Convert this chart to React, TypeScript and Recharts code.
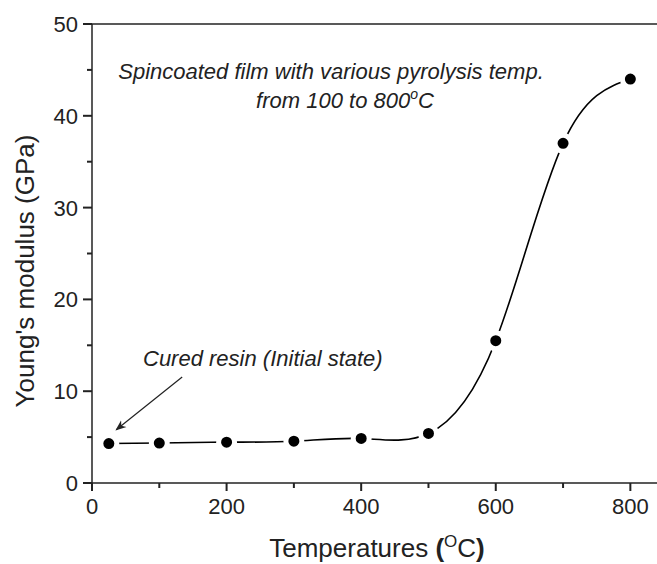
import { LineChart, Line, XAxis, YAxis, ReferenceLine } from 'recharts'

const temps = [25, 100, 200, 300, 400, 500, 600, 700, 800]
const modulus = [4.3, 4.35, 4.45, 4.55, 4.85, 5.4, 15.5, 37, 44]
const xTicks = [0, 100, 200, 300, 400, 500, 600, 700, 800]
const yTicks = [0, 5, 10, 15, 20, 25, 30, 35, 40, 45, 50]
const arrowFrom = { x: 134, y: 11.55 }
const arrowTo = { x: 36, y: 5.8 }

const data = temps.map((t, i) => ({ temp: t, modulus: modulus[i] }))

const font = '"Liberation Sans", Arial, sans-serif'
const ink = '#222'

const XTick = (props: any) => {
  const { x, y, payload } = props
  const major = payload.value % 200 === 0
  return (
    <g>
      <line x1={x} y1={y} x2={x} y2={y + (major ? 8 : 5)} stroke={ink} strokeWidth={2} />
      {major && (
        <text x={x} y={y + 31} textAnchor="middle" fontSize={22} fontFamily={font} fill={ink}>
          {payload.value}
        </text>
      )}
    </g>
  )
}

const YTick = (props: any) => {
  const { x, y, payload } = props
  const major = payload.value % 10 === 0
  return (
    <g>
      <line x1={x} y1={y} x2={x - (major ? 9 : 5)} y2={y} stroke={ink} strokeWidth={2} />
      {major && (
        <text x={x - 14} y={y + 8} textAnchor="end" fontSize={22} fontFamily={font} fill={ink}>
          {payload.value}
        </text>
      )}
    </g>
  )
}

export default function App() {
  return (
    <div style={{ position: 'fixed', left: 0, top: 0, width: 657, height: 564, overflow: 'hidden', background: '#fff' }}>
      <LineChart width={700} height={564} data={data} margin={{ top: 24, right: 36, left: 0, bottom: 0 }}>
        <defs>
          <marker id="arrowHead" viewBox="0 0 10 10" refX="9" refY="5" markerWidth="9" markerHeight="9" orient="auto">
            <path d="M0,1 L10,5 L0,9 L3,5 Z" fill={ink} />
          </marker>
        </defs>
        <XAxis
          type="number"
          dataKey="temp"
          domain={[0, 850]}
          ticks={xTicks}
          tick={<XTick />}
          tickSize={0}
          tickMargin={0}
          tickLine={false}
          axisLine={{ stroke: ink, strokeWidth: 1.5 }}
          height={81}
          interval={0}
        />
        <YAxis
          type="number"
          domain={[0, 50]}
          ticks={yTicks}
          tick={<YTick />}
          tickSize={0}
          tickMargin={0}
          tickLine={false}
          axisLine={{ stroke: ink, strokeWidth: 1.5 }}
          width={92}
          interval={0}
        />
        <ReferenceLine y={50} stroke={ink} strokeWidth={1.5} />
        <ReferenceLine x={850} stroke={ink} strokeWidth={1.5} />
        <ReferenceLine
          segment={[arrowFrom, arrowTo]}
          stroke={ink}
          strokeWidth={1.2}
          markerEnd="url(#arrowHead)"
        />
        <Line
          type="natural"
          dataKey="modulus"
          stroke="#000"
          strokeWidth={1.6}
          dot={{ r: 8, fill: '#000', stroke: '#fff', strokeWidth: 5 }}
          isAnimationActive={false}
        />
        <text x={331} y={79} textAnchor="middle" fontSize={22} fontStyle="italic" fontFamily={font} fill={ink}>
          Spincoated film with various pyrolysis temp.
        </text>
        <text x={345} y={108} textAnchor="middle" fontSize={22} fontStyle="italic" fontFamily={font} fill={ink}>
          from 100 to 800
          <tspan fontSize={14} dy={-9}>o</tspan>
          <tspan dy={9}>C</tspan>
        </text>
        <text x={143} y={366} fontSize={22} fontStyle="italic" fontFamily={font} fill={ink}>
          Cured resin (Initial state)
        </text>
        <text
          x={25}
          y={271}
          transform="rotate(-90, 25, 271)"
          textAnchor="middle"
          dominantBaseline="central"
          fontSize={26}
          fontFamily={font}
          fill={ink}
        >
          Young's modulus (GPa)
        </text>
        <text x={377} y={557} textAnchor="middle" fontSize={26} fontFamily={font} fill={ink}>
          Temperatures <tspan fontWeight="bold">(</tspan>
          <tspan fontSize={17} dy={-10}>O</tspan>
          <tspan dy={10}>C</tspan>
          <tspan fontWeight="bold">)</tspan>
        </text>
      </LineChart>
    </div>
  )
}
